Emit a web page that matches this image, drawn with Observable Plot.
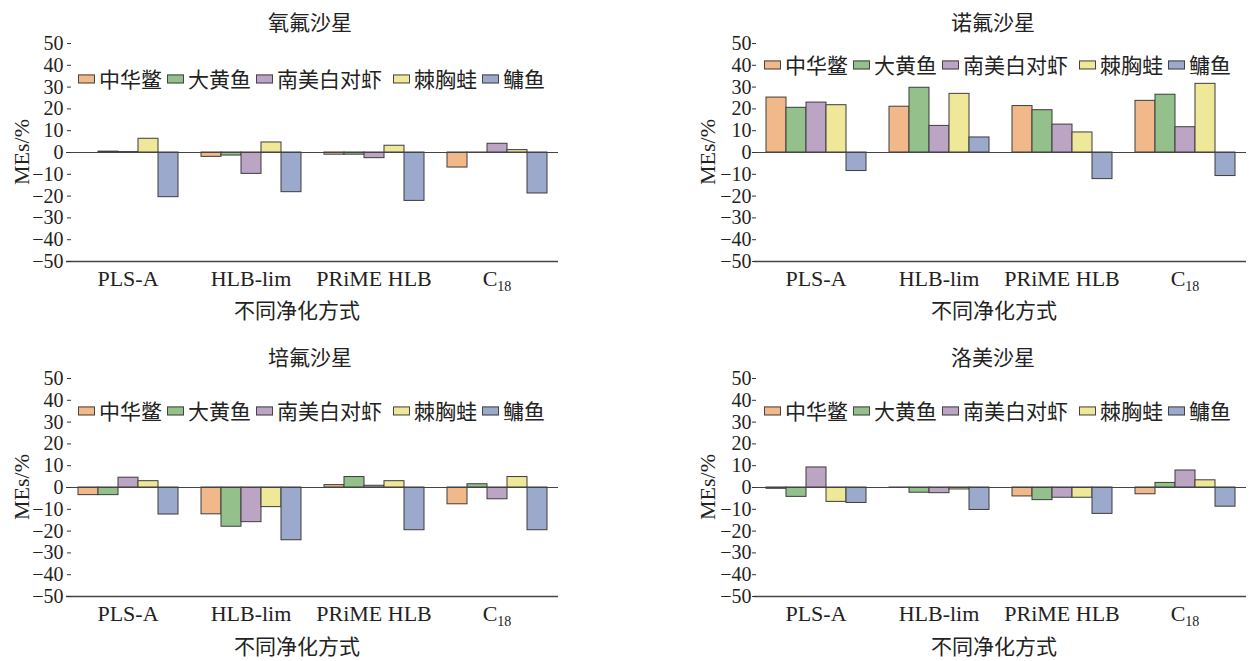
<!DOCTYPE html>
<html><head><meta charset="utf-8">
<script src="https://cdn.jsdelivr.net/npm/d3@7"></script>
<script src="https://cdn.jsdelivr.net/npm/@observablehq/plot@0.6"></script>
<style>
body{margin:0;background:#fff;}
#root{position:relative;width:1250px;height:661px;overflow:hidden;background:#fff;}
.abs{position:absolute;white-space:nowrap;}
.title{font-family:"Noto Sans CJK SC",sans-serif;font-size:21px;line-height:1.1;color:#222;transform:translate(-50%,-50%);}
.xlab{font-family:"Noto Sans CJK SC",sans-serif;font-size:21px;line-height:1.1;color:#222;transform:translate(-50%,-50%);}
.ylab{font-family:"Liberation Serif",serif;font-size:22px;line-height:1.1;color:#222;transform:translate(-50%,-50%) rotate(-90deg);}
.legend{font-family:"Noto Sans CJK SC",sans-serif;font-size:21px;line-height:1.1;color:#222;transform:translateY(-50%);display:flex;align-items:center;}
.legend .item{display:flex;align-items:center;margin-right:5px;}
.legend .sw{display:inline-block;width:15px;height:7px;border:1px solid #444;margin-right:4px;}
svg text{fill:#222;}
</style></head>
<body><div id="root"></div>
<script>
const methods = ["PLS-A", "HLB-lim", "PRiME HLB", "C18"];
const species = ["中华鳖", "大黄鱼", "南美白对虾", "棘胸蛙", "鳙鱼"];
const colors = ["#f1b889", "#93c08b", "#bca4c4", "#eee898", "#9aa9cc"];
const yTicks = [-50, -40, -30, -20, -10, 0, 10, 20, 30, 40, 50];
const titles = ["氧氟沙星", "诺氟沙星", "培氟沙星", "洛美沙星"];
const xLabel = "不同净化方式";
const yLabel = "MEs/%";

// rows: methods, columns: species
const ofloxacin = [
  [0, 0.4, 0.2, 6.3, -20.5],
  [-2.0, -1.4, -9.8, 4.6, -18.2],
  [-1.0, -1.0, -2.6, 3.1, -22.2],
  [-6.9, -0.2, 4.0, 1.1, -18.8]
];
const norfloxacin = [
  [25.2, 20.5, 22.9, 21.7, -8.5],
  [21.0, 29.7, 12.2, 26.9, 6.9],
  [21.3, 19.4, 12.8, 9.2, -12.2],
  [23.7, 26.5, 11.6, 31.5, -10.8]
];
const pefloxacin = [
  [-3.5, -3.5, 4.5, 2.9, -12.4],
  [-12.3, -18.0, -15.9, -9.0, -24.2],
  [1.1, 4.8, 0.8, 2.9, -19.6],
  [-7.7, 1.5, -5.4, 4.8, -19.6]
];
const lomefloxacin = [
  [-0.6, -4.3, 9.2, -6.6, -7.1],
  [-0.2, -2.4, -2.6, -0.9, -10.3],
  [-4.1, -5.8, -4.7, -4.7, -12.1],
  [-3.1, 2.1, 7.8, 3.3, -8.8]
];
const legendValue = [33.5, 40, 35, 35];

const panelValues = [ofloxacin, norfloxacin, pefloxacin, lomefloxacin];
// layout only
const layout = [
  {left: 0, top: 0, h: 330, ml: 66, mr: 67, mb: 69, titleY: 22, xlabX: 297, xlabY: 310, titleX: 310, ylabX: 22},
  {left: 625, top: 0, h: 330, ml: 127, mr: 3, mb: 69, titleY: 22, xlabX: 994, xlabY: 310, titleX: 993, ylabX: 708},
  {left: 0, top: 335, h: 326, ml: 66, mr: 67, mb: 65, titleY: 357, xlabX: 297, xlabY: 646, titleX: 310, ylabX: 22},
  {left: 625, top: 335, h: 326, ml: 127, mr: 3, mb: 65, titleY: 357, xlabX: 994, xlabY: 646, titleX: 993, ylabX: 708}
];

const root = document.getElementById("root");
const W = 625, MT = 43;

panelValues.forEach((vals, p) => {
  const L = layout[p];
  const data = [];
  methods.forEach((m, i) => species.forEach((s, j) => data.push({method: m, species: s, value: vals[i][j]})));
  const plotW = W - L.ml - L.mr;
  const yScale = d3.scaleLinear().domain([-50, 50]).range([L.h - L.mb, MT]);

  const chart = Plot.plot({
    width: W, height: L.h,
    marginLeft: L.ml, marginRight: L.mr, marginTop: MT, marginBottom: L.mb,
    style: {fontFamily: "Liberation Serif, serif", fontSize: "20px", background: "transparent", overflow: "visible"},
    fx: {domain: methods, padding: 0, label: null},
    x: {domain: species, padding: 0, insetLeft: 11.5, insetRight: 11.5, axis: null},
    y: {domain: [-50, 50], label: null},
    color: {domain: species, range: colors},
    marks: [
      Plot.barY(data, {fx: "method", x: "species", y: "value", fill: "species", stroke: "#3d3d3d", strokeWidth: 1, inset: 0}),
      Plot.ruleY([0], {stroke: "#444", strokeWidth: 1.2}),
      Plot.ruleY([-50], {stroke: "#444", strokeWidth: 1.4}),
      Plot.axisY({ticks: yTicks, tickSize: 0, tickPadding: 3, line: true, stroke: "#333", fontSize: 20,
                  tickFormat: d => d < 0 ? "\u2212" + Math.abs(d) : String(d), label: null}),
      Plot.axisY({ticks: yTicks, anchor: "right", dx: -plotW, tickSize: 4, stroke: "#333", tickFormat: () => "", label: null}),
      Plot.axisFx({anchor: "bottom", tickSize: 0, tickPadding: 9, fontSize: 22, label: null})
    ]
  });
  chart.style.position = "absolute";
  chart.style.left = L.left + "px";
  chart.style.top = L.top + "px";
  // subscript for C18
  chart.querySelectorAll("text").forEach(t => {
    if (t.textContent === "C18") {
      t.textContent = "C";
      const ts = document.createElementNS("http://www.w3.org/2000/svg", "tspan");
      ts.textContent = "18";
      ts.setAttribute("font-size", "14");
      ts.setAttribute("dy", "5");
      t.appendChild(ts);
    }
  });
  root.appendChild(chart);

  const title = document.createElement("div");
  title.className = "abs title";
  title.textContent = titles[p];
  title.style.left = L.titleX + "px"; title.style.top = L.titleY + "px";
  root.appendChild(title);

  const xl = document.createElement("div");
  xl.className = "abs xlab";
  xl.textContent = xLabel;
  xl.style.left = L.xlabX + "px"; xl.style.top = L.xlabY + "px";
  root.appendChild(xl);

  const yl = document.createElement("div");
  yl.className = "abs ylab";
  yl.textContent = yLabel;
  yl.style.left = L.ylabX + "px"; yl.style.top = (L.top + yScale(0)) + "px";
  root.appendChild(yl);

  const lg = document.createElement("div");
  lg.className = "abs legend";
  lg.style.left = (L.left + L.ml + 12) + "px";
  lg.style.top = (L.top + yScale(legendValue[p])) + "px";
  species.forEach((s, j) => {
    const it = document.createElement("span");
    it.className = "item";
    if (j === 3) it.style.marginLeft = "6px";
    const sw = document.createElement("span");
    sw.className = "sw"; sw.style.background = colors[j];
    const tx = document.createElement("span");
    tx.textContent = s;
    it.appendChild(sw); it.appendChild(tx);
    lg.appendChild(it);
  });
  root.appendChild(lg);
});
</script>
</body></html>
